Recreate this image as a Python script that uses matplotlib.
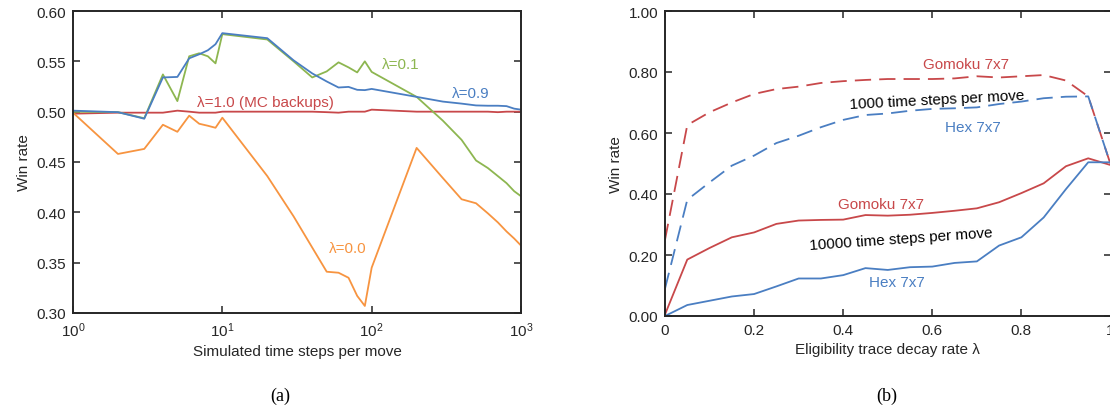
import matplotlib
matplotlib.use("Agg")
import matplotlib.pyplot as plt
from matplotlib.ticker import FixedLocator, FormatStrFormatter, NullLocator

plt.rcParams["font.family"] = ["Liberation Sans", "DejaVu Sans"]
plt.rcParams["mathtext.fontset"] = "custom"
plt.rcParams["mathtext.rm"] = "Liberation Sans"
plt.rcParams["mathtext.it"] = "Liberation Sans:italic"

BLUE = "#4a7ec2"
GREEN = "#8db650"
ORANGE = "#f79440"
RED = "#c8484a"

# ---- panel (a): win rate vs simulated steps ----
STEPS = [1, 2, 3, 4, 5, 6, 7, 8, 9, 10, 20, 30, 40, 50, 60, 70, 80, 90,
         100, 200, 300, 400, 500, 600, 700, 800, 900, 1000]
lam00 = [0.499, 0.458, 0.463, 0.487, 0.480, 0.496, 0.488, 0.486, 0.484, 0.494,
         0.436, 0.396, 0.365, 0.341, 0.340, 0.335, 0.317, 0.307,
         0.345, 0.464, 0.434, 0.413, 0.409, 0.399, 0.390, 0.381, 0.374, 0.367]
lam01 = [0.500, 0.4995, 0.4935, 0.537, 0.5105, 0.555, 0.558, 0.555, 0.548, 0.577,
         0.5717, 0.550, 0.534, 0.540, 0.549, 0.544, 0.539, 0.550,
         0.5395, 0.5147, 0.491, 0.472, 0.4515, 0.444, 0.436, 0.429, 0.421, 0.416]
lam09 = [0.501, 0.4995, 0.493, 0.534, 0.5345, 0.553, 0.557, 0.561, 0.567, 0.578,
         0.573, 0.551, 0.538, 0.530, 0.524, 0.5246, 0.5217, 0.5214,
         0.5226, 0.5147, 0.510, 0.508, 0.5062, 0.5059, 0.5059, 0.5055, 0.503, 0.502]
lam10 = [0.498, 0.499, 0.499, 0.499, 0.501, 0.500, 0.499, 0.499, 0.499, 0.500,
         0.500, 0.500, 0.500, 0.4995, 0.499, 0.500, 0.500, 0.500,
         0.502, 0.500, 0.500, 0.500, 0.500, 0.500, 0.4995, 0.500, 0.500, 0.500]

# ---- panel (b): win rate vs eligibility trace decay rate ----
LAMBDAS = [0.0, 0.05, 0.1, 0.15, 0.2, 0.25, 0.3, 0.35, 0.4, 0.45, 0.5,
           0.55, 0.6, 0.65, 0.7, 0.75, 0.8, 0.85, 0.9, 0.95, 1.0]
gomoku_1000 = [0.25, 0.626, 0.668, 0.700, 0.728, 0.744, 0.752, 0.764, 0.770, 0.774,
               0.777, 0.777, 0.777, 0.779, 0.786, 0.782, 0.786, 0.790, 0.772, 0.720, 0.498]
hex_1000 = [0.09, 0.381, 0.438, 0.493, 0.526, 0.567, 0.591, 0.619, 0.643, 0.659,
            0.664, 0.673, 0.679, 0.681, 0.684, 0.695, 0.703, 0.714, 0.719, 0.720, 0.498]
gomoku_10000 = [0.005, 0.185, 0.223, 0.258, 0.274, 0.302, 0.313, 0.315, 0.316, 0.331,
                0.329, 0.332, 0.338, 0.345, 0.353, 0.373, 0.403, 0.435, 0.491, 0.517, 0.495]
hex_10000 = [0.0, 0.036, 0.050, 0.064, 0.072, 0.097, 0.123, 0.123, 0.134, 0.157,
             0.151, 0.160, 0.162, 0.174, 0.179, 0.231, 0.258, 0.323, 0.416, 0.504, 0.504]

W, H = 1110, 410
fig = plt.figure(figsize=(W / 100, H / 100), dpi=100)
ax1 = fig.add_axes([73 / W, (H - 314) / H, 448 / W, 302 / H])
ax2 = fig.add_axes([665 / W, (H - 317) / H, 445.5 / W, 305 / H])

LW = 1.3
FS = 11

for ax in (ax1, ax2):
    for sp in ax.spines.values():
        sp.set_linewidth(1.4)
        sp.set_color("#262626")
    ax.tick_params(direction="in", top=True, right=True, length=5, width=1.1,
                   labelsize=FS, colors="#262626", pad=5)
    ax.set_ylabel("Win rate", fontsize=FS, color="#262626")

# panel (a)
ax1.plot(STEPS, lam10, color=RED, lw=LW)
ax1.plot(STEPS, lam00, color=ORANGE, lw=LW)
ax1.plot(STEPS, lam01, color=GREEN, lw=LW)
ax1.plot(STEPS, lam09, color=BLUE, lw=LW)
ax1.set_xscale("log")
ax1.set_xlim(1, 1000)
ax1.set_ylim(0.30, 0.60)
ax1.xaxis.set_minor_locator(NullLocator())
ax1.yaxis.set_major_locator(FixedLocator([0.30, 0.35, 0.40, 0.45, 0.50, 0.55, 0.60]))
ax1.yaxis.set_major_formatter(FormatStrFormatter("%.2f"))
ax1.set_xlabel("Simulated time steps per move", fontsize=FS, color="#262626", labelpad=4)

ax1.text(157, 0.547, "λ=0.1", color=GREEN, fontsize=FS, ha="center", va="center")
ax1.text(462, 0.519, "λ=0.9", color=BLUE, fontsize=FS, ha="center", va="center")
ax1.text(19.4, 0.510, "λ=1.0 (MC backups)", color=RED, fontsize=FS, ha="center", va="center")
ax1.text(69, 0.365, "λ=0.0", color=ORANGE, fontsize=FS, ha="center", va="center")

# panel (b)
dash = (9, 4.5)
ax2.plot(LAMBDAS, gomoku_1000, color=RED, lw=LW, dashes=dash)
ax2.plot(LAMBDAS, hex_1000, color=BLUE, lw=LW, dashes=dash)
ax2.plot(LAMBDAS, gomoku_10000, color=RED, lw=LW)
ax2.plot(LAMBDAS, hex_10000, color=BLUE, lw=LW)
ax2.set_xlim(0, 1)
ax2.set_ylim(0, 1)
ax2.xaxis.set_major_locator(FixedLocator([0, 0.2, 0.4, 0.6, 0.8, 1.0]))
ax2.xaxis.set_major_formatter(FormatStrFormatter("%g"))
ax2.yaxis.set_major_locator(FixedLocator([0, 0.2, 0.4, 0.6, 0.8, 1.0]))
ax2.yaxis.set_major_formatter(FormatStrFormatter("%.2f"))
ax2.set_xlabel("Eligibility trace decay rate λ", fontsize=FS, color="#262626", labelpad=4)

ax2.text(0.676, 0.826, "Gomoku 7x7", color=RED, fontsize=FS, ha="center", va="center")
ax2.text(0.61, 0.71, "1000 time steps per move", color="black", fontsize=FS,
         ha="center", va="center", rotation=3)
ax2.text(0.69, 0.62, "Hex 7x7", color=BLUE, fontsize=FS, ha="center", va="center")
ax2.text(0.485, 0.367, "Gomoku 7x7", color=RED, fontsize=FS, ha="center", va="center")
ax2.text(0.53, 0.255, "10000 time steps per move", color="black", fontsize=FS,
         ha="center", va="center", rotation=4)
ax2.text(0.52, 0.113, "Hex 7x7", color=BLUE, fontsize=FS, ha="center", va="center")

fig.text(280 / W, 1 - 396 / H, "(a)", fontsize=13, family="Liberation Serif",
         ha="center", va="center")
fig.text(887 / W, 1 - 396 / H, "(b)", fontsize=13, family="Liberation Serif",
         ha="center", va="center")

fig.savefig("out.png", dpi=100)
